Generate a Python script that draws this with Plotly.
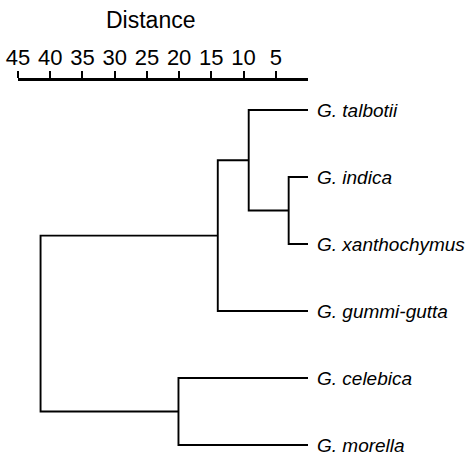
import plotly.graph_objects as go

# Leaves (top to bottom)
leaves = ["G. talbotii", "G. indica", "G. xanthochymus",
          "G. gummi-gutta", "G. celebica", "G. morella"]
# Merges: (child_a, child_b, distance); new clusters numbered from len(leaves)
merge_a = [1, 0, 7, 4, 8]
merge_b = [2, 6, 3, 5, 9]
merge_dist = [3.0, 9.2, 14.0, 20.1, 41.5]
tick_vals = [45, 40, 35, 30, 25, 20, 15, 10, 5]

n = len(leaves)
ypos = {i: float(i) for i in range(n)}
xpos = {i: 0.0 for i in range(n)}
xs, ys = [], []
for k, (a, b, d) in enumerate(zip(merge_a, merge_b, merge_dist)):
    node = n + k
    xs += [xpos[a], d, d, xpos[b], None]
    ys += [ypos[a], ypos[a], ypos[b], ypos[b], None]
    xpos[node] = d
    ypos[node] = (ypos[a] + ypos[b]) / 2

fig = go.Figure()
fig.add_trace(go.Scatter(x=xs, y=ys, mode="lines",
                         line=dict(color="black", width=1.9),
                         hoverinfo="skip", showlegend=False))

for i, name in enumerate(leaves):
    fig.add_annotation(x=0, y=i, xref="x", yref="y", text=name,
                       showarrow=False, xanchor="left", yanchor="middle",
                       xshift=7,
                       font=dict(family="Liberation Sans, Arial", size=19,
                                 color="black", style="italic"))

fig.add_annotation(x=0.457, y=1, xref="paper", yref="paper", yshift=61,
                   text="Distance", showarrow=False, yanchor="middle",
                   font=dict(family="Liberation Sans, Arial", size=23, color="black"))

fig.update_layout(
    width=466, height=461,
    margin=dict(l=18, r=158, t=81, b=6),
    plot_bgcolor="white", paper_bgcolor="white",
    xaxis=dict(range=[45, 0], side="top", tickvals=tick_vals,
               ticktext=[str(v) for v in tick_vals],
               showline=True, linecolor="black", linewidth=2.5,
               ticks="outside", ticklen=7, tickwidth=2, tickcolor="black",
               ticklabelstandoff=-3,
               showgrid=False, zeroline=False,
               tickfont=dict(family="Liberation Sans, Arial", size=22, color="black")),
    yaxis=dict(range=[5.149, -0.433], visible=False, showgrid=False, zeroline=False),
)

fig.write_html("out.html", config={"displayModeBar": False},
               post_script="document.body.style.margin='0';")
